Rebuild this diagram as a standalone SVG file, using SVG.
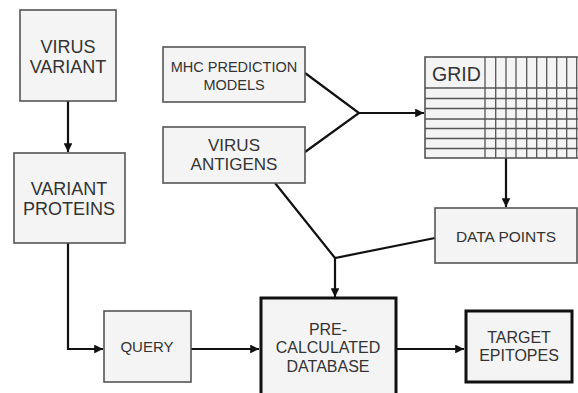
<svg xmlns="http://www.w3.org/2000/svg" width="578" height="393" viewBox="0 0 578 393">
  <style>
    .box { fill: #f4f4f4; stroke: #555; stroke-width: 1.6; }
    .bold { fill: #f4f4f4; stroke: #111; stroke-width: 3; }
    .t { font-family: "Liberation Sans", Arial, sans-serif; fill: #333; text-anchor: middle; }
    .edge { fill: none; stroke: #111; stroke-width: 2.2; }
    .grid line { stroke: #555; stroke-width: 1.3; }
  </style>
  <defs>
    <marker id="arrow" viewBox="0 0 10 10" refX="10" refY="5" markerWidth="4" markerHeight="4" orient="auto" markerUnits="strokeWidth">
      <path d="M0,0 L10,5 L0,10 z" fill="#111"/>
    </marker>
  </defs>

  <rect width="578" height="393" fill="#fff"/>

  <g id="connectors">
    <line class="edge" x1="68" y1="101" x2="68" y2="152" marker-end="url(#arrow)"/>
    <polyline class="edge" points="68,243 68,349 103,349" marker-end="url(#arrow)"/>
    <line class="edge" x1="191" y1="349" x2="259" y2="349" marker-end="url(#arrow)"/>
    <line class="edge" x1="396" y1="349" x2="464" y2="349" marker-end="url(#arrow)"/>
    <polyline class="edge" points="305,73 359,113 305,152"/>
    <line class="edge" x1="359" y1="113" x2="424" y2="113" marker-end="url(#arrow)"/>
    <line class="edge" x1="506" y1="158" x2="506" y2="207" marker-end="url(#arrow)"/>
    <polyline class="edge" points="275,183 335,258 435,238"/>
    <line class="edge" x1="335" y1="258" x2="335" y2="297" marker-end="url(#arrow)"/>
  </g>

  <g id="virus-variant">
    <rect class="box" x="20" y="10" width="96" height="91"/>
    <text class="t" x="68" y="53" font-size="18">VIRUS</text>
    <text class="t" x="68" y="73" font-size="18">VARIANT</text>
  </g>

  <g id="variant-proteins">
    <rect class="box" x="14" y="153" width="111" height="90"/>
    <text class="t" x="69" y="195" font-size="18">VARIANT</text>
    <text class="t" x="69" y="215" font-size="18">PROTEINS</text>
  </g>

  <g id="mhc-models">
    <rect class="box" x="163" y="47" width="142" height="55"/>
    <text class="t" x="234" y="72" font-size="14.5">MHC PREDICTION</text>
    <text class="t" x="234" y="90" font-size="14.5">MODELS</text>
  </g>

  <g id="virus-antigens">
    <rect class="box" x="163" y="127" width="142" height="56"/>
    <text class="t" x="234" y="151" font-size="17">VIRUS</text>
    <text class="t" x="234" y="170" font-size="17">ANTIGENS</text>
  </g>

  <g id="grid">
    <rect class="box" x="425" y="57" width="160" height="101"/>
    <g class="grid">
      <line x1="425" y1="88" x2="578" y2="88"/>
      <line x1="425" y1="98.5" x2="578" y2="98.5"/>
      <line x1="425" y1="108.5" x2="578" y2="108.5"/>
      <line x1="425" y1="119" x2="578" y2="119"/>
      <line x1="425" y1="128.5" x2="578" y2="128.5"/>
      <line x1="425" y1="138.5" x2="578" y2="138.5"/>
      <line x1="425" y1="148.5" x2="578" y2="148.5"/>
      <line x1="485" y1="57" x2="485" y2="158"/>
      <line x1="495.7" y1="57" x2="495.7" y2="158"/>
      <line x1="506" y1="57" x2="506" y2="158"/>
      <line x1="516" y1="57" x2="516" y2="158"/>
      <line x1="526.7" y1="57" x2="526.7" y2="158"/>
      <line x1="536.7" y1="57" x2="536.7" y2="158"/>
      <line x1="546.7" y1="57" x2="546.7" y2="158"/>
      <line x1="556.7" y1="57" x2="556.7" y2="158"/>
      <line x1="566.7" y1="57" x2="566.7" y2="158"/>
      <line x1="576.7" y1="57" x2="576.7" y2="158"/>
    </g>
    <text class="t" x="432" y="81" font-size="19.5" style="text-anchor:start">GRID</text>
  </g>

  <g id="data-points">
    <rect class="box" x="435" y="208" width="142" height="55"/>
    <text class="t" x="506" y="242" font-size="15.5">DATA POINTS</text>
  </g>

  <g id="query">
    <rect class="box" x="104" y="311" width="87" height="71"/>
    <text class="t" x="147" y="352" font-size="15">QUERY</text>
  </g>

  <g id="precalculated-database">
    <rect class="bold" x="261" y="298" width="135" height="100"/>
    <text class="t" x="328" y="335" font-size="16">PRE-</text>
    <text class="t" x="328" y="353" font-size="16">CALCULATED</text>
    <text class="t" x="328" y="372" font-size="16">DATABASE</text>
  </g>

  <g id="target-epitopes">
    <rect class="bold" x="466" y="311" width="106" height="71"/>
    <text class="t" x="519" y="343" font-size="16">TARGET</text>
    <text class="t" x="519" y="361" font-size="16">EPITOPES</text>
  </g>
</svg>
